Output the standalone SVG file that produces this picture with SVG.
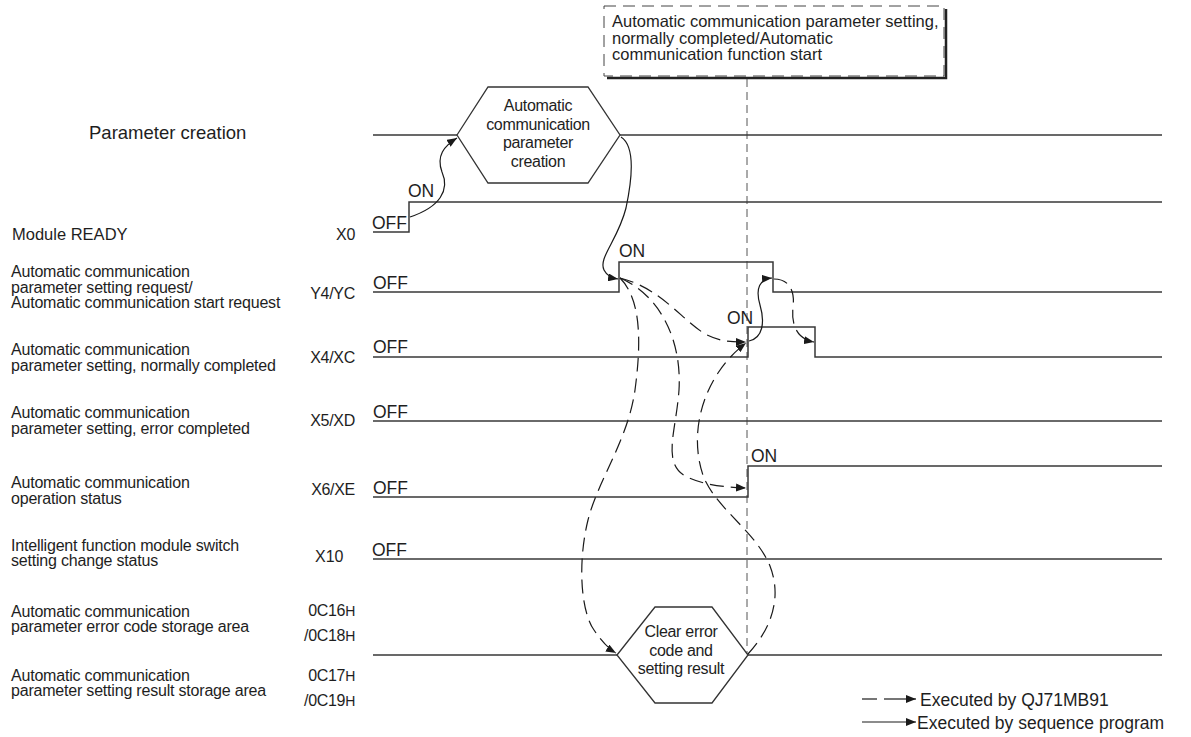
<svg xmlns="http://www.w3.org/2000/svg" width="1191" height="737" viewBox="0 0 1191 737">
<defs>
<marker id="ah" markerUnits="userSpaceOnUse" markerWidth="11" markerHeight="8" refX="10" refY="4" orient="auto">
<path d="M0,0 L10,4 L0,8 z" fill="#1a1a1a"/>
</marker>
<style>
text{font-family:"Liberation Sans",Arial,sans-serif;fill:#1e1e1e}
.lb{font-size:16px;letter-spacing:-0.2px}
.cd{font-size:16px;letter-spacing:-0.3px;text-anchor:end}
.st{font-size:17.5px}
.hx{font-size:16px;letter-spacing:-0.3px;text-anchor:middle}
.ln{stroke:#383838;stroke-width:1.5;fill:none}
.hex{stroke:#333;stroke-width:1.3;fill:#fff}
.vd{stroke:#555;stroke-width:1;stroke-dasharray:8 5;fill:none}
.sc{stroke:#1a1a1a;stroke-width:1.2;fill:none;marker-end:url(#ah)}
.dc{stroke:#1a1a1a;stroke-width:1.2;fill:none;stroke-dasharray:14 7;marker-end:url(#ah)}
</style>
</defs>

<g id="callout">
<rect x="604" y="6" width="340" height="70" fill="#fff" stroke="#444" stroke-width="1" stroke-dasharray="12 7"/>
<polyline points="607,78 946,78 946,9" fill="none" stroke="#222" stroke-width="2.5"/>
<text x="612" y="27" font-size="16.5">Automatic communication parameter setting,</text>
<text x="612" y="43.5" font-size="16.5">normally completed/Automatic</text>
<text x="612" y="60" font-size="16.5">communication function start</text>
</g>

<g id="timeline-lines">
<path class="vd" d="M747,79 V655"/>
<path class="ln" d="M373,135 H457 M620,135 H1162"/>
<path class="ln" d="M373,232 H409 V202 H1162"/>
<path class="ln" d="M373,292 H619 V262 H773 V292 H1162"/>
<path class="ln" d="M373,357 H748 V327 H815 V357 H1162"/>
<path class="ln" d="M373,421 H1162"/>
<path class="ln" d="M373,497 H748 V466 H1162"/>
<path class="ln" d="M373,559 H1162"/>
<path class="ln" d="M373,655 H617 M748,655 H1162"/>
</g>

<g id="sig-param">
<text x="89" y="139" font-size="18.5">Parameter creation</text>
</g>
<g id="sig-x0">
<text x="12" y="240" font-size="16.5">Module READY</text>
<text class="cd" x="355" y="240">X0</text>
<text class="st" x="372" y="229">OFF</text>
<text class="st" x="408" y="197">ON</text>
</g>
<g id="sig-y4">
<text class="lb" x="11" y="277">Automatic communication</text>
<text class="lb" x="11" y="292.5">parameter setting request/</text>
<text class="lb" x="11" y="308">Automatic communication start request</text>
<text class="cd" x="355" y="299">Y4/YC</text>
<text class="st" x="373" y="289">OFF</text>
<text class="st" x="619" y="257">ON</text>
</g>
<g id="sig-x4">
<text class="lb" x="11" y="355">Automatic communication</text>
<text class="lb" x="11" y="371">parameter setting, normally completed</text>
<text class="cd" x="355" y="363">X4/XC</text>
<text class="st" x="373" y="353">OFF</text>
<text class="st" x="727" y="324">ON</text>
</g>
<g id="sig-x5">
<text class="lb" x="11" y="418">Automatic communication</text>
<text class="lb" x="11" y="434">parameter setting, error completed</text>
<text class="cd" x="355" y="426">X5/XD</text>
<text class="st" x="373" y="418">OFF</text>
</g>
<g id="sig-x6">
<text class="lb" x="11" y="488">Automatic communication</text>
<text class="lb" x="11" y="503.5">operation status</text>
<text class="cd" x="355" y="495">X6/XE</text>
<text class="st" x="373" y="494">OFF</text>
<text class="st" x="751" y="462">ON</text>
</g>
<g id="sig-x10">
<text class="lb" x="11" y="551">Intelligent function module switch</text>
<text class="lb" x="11" y="566">setting change status</text>
<text x="315" y="562" font-size="16">X10</text>
<text class="st" x="372" y="556">OFF</text>
</g>
<g id="sig-0c16">
<text class="lb" x="11" y="617">Automatic communication</text>
<text class="lb" x="11" y="632">parameter error code storage area</text>
<text class="cd" x="355" y="616">0C16<tspan font-size="14">H</tspan></text>
<text class="cd" x="355" y="641">/0C18<tspan font-size="14">H</tspan></text>
</g>
<g id="sig-0c17">
<text class="lb" x="11" y="681">Automatic communication</text>
<text class="lb" x="11" y="696">parameter setting result storage area</text>
<text class="cd" x="355" y="681">0C17<tspan font-size="14">H</tspan></text>
<text class="cd" x="355" y="706">/0C19<tspan font-size="14">H</tspan></text>
</g>

<g id="hex-param">
<polygon class="hex" points="457,135 488,87 588,87 620,135 588,183 488,183"/>
<text class="hx" x="538" y="111">Automatic</text>
<text class="hx" x="538" y="129.5">communication</text>
<text class="hx" x="538" y="148">parameter</text>
<text class="hx" x="538" y="166.5">creation</text>
</g>
<g id="hex-clear">
<polygon class="hex" points="617,655 655,607 712,607 748,655 712,703 655,703"/>
<text class="hx" x="681" y="637" font-size="15.5">Clear error</text>
<text class="hx" x="681" y="655.5" font-size="15.5">code and</text>
<text class="hx" x="681" y="674" font-size="15.5">setting result</text>
</g>

<g id="connectors">
<path class="sc" d="M410,217 C440,207 450,190 442,172 C436,156 444,146 457,138"/>
<path class="sc" d="M621,137 C635,146 633,175 626,208 C618,240 598,258 604,270 C607,276 612,278 618,279"/>
<path class="sc" d="M749,341 C763,338 765,322 760,305 C755,288 760,279 772,278"/>
<path class="dc" d="M774,279 C790,279 795,292 793,307 C791,325 797,339 814,342"/>
<path class="dc" d="M620,278 C660,288 680,318 705,334 C720,342 733,342 746,342"/>
<path class="dc" d="M620,278 C660,295 682,340 679,390 C676,432 662,462 685,476 C705,486 727,487 746,488"/>
<path class="dc" d="M620,278 C642,300 641,345 635,390 C628,440 598,480 588,520 C578,560 580,610 594,630 C602,642 609,649 616,653"/>
<path class="dc" d="M748,654 C772,628 782,597 770,566 C756,532 718,510 704,478 C690,440 700,400 718,373 C728,358 738,349 746,343"/>
</g>

<g id="legend">
<path d="M862,699 H877" stroke="#1a1a1a" stroke-width="1.2"/>
<path d="M884,699 H916" stroke="#1a1a1a" stroke-width="1.2" marker-end="url(#ah)"/>
<text x="920" y="706" font-size="17.5">Executed by QJ71MB91</text>
<path d="M862,722 H916" stroke="#1a1a1a" stroke-width="1.2" marker-end="url(#ah)"/>
<text x="917" y="728.5" font-size="17.5">Executed by sequence program</text>
</g>
</svg>
